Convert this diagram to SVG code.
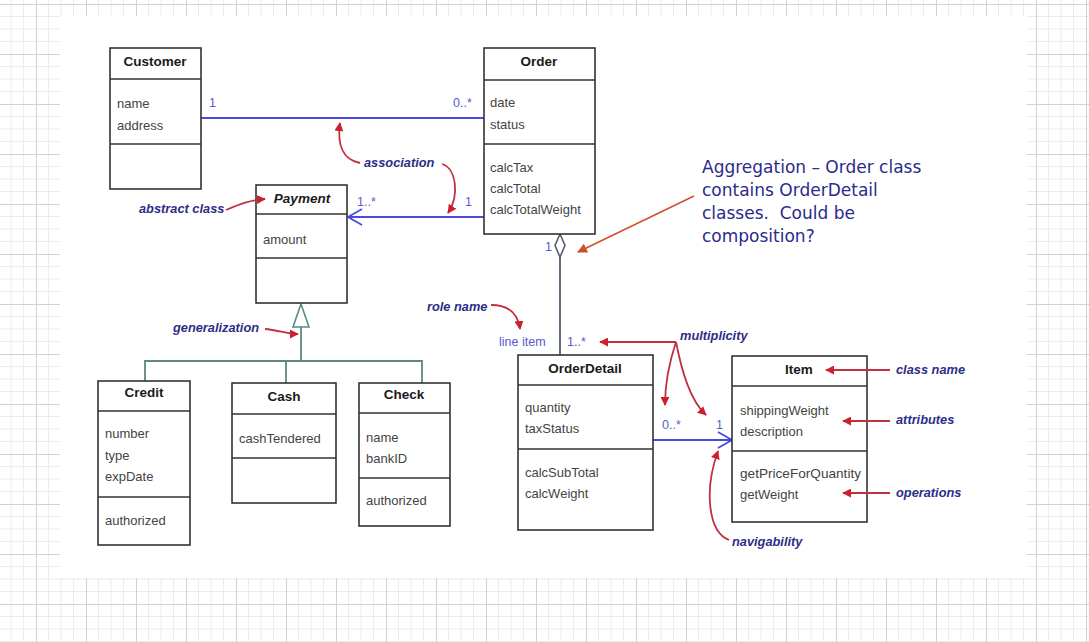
<svg xmlns="http://www.w3.org/2000/svg" width="1089" height="642" viewBox="0 0 1089 642">
<defs>
<pattern id="grid" patternUnits="userSpaceOnUse" x="36" y="4" width="50" height="50">
<path d="M12.5 0V50M25 0V50M37.5 0V50M0 12.5H50M0 25H50M0 37.5H50" stroke="#ececec" stroke-width="1" fill="none"/>
<path d="M0.5 0V50M0 0.5H50" stroke="#d2d2d2" stroke-width="1" fill="none"/>
</pattern>
<marker id="red" viewBox="0 0 10 10" refX="9" refY="5" markerWidth="9" markerHeight="9" markerUnits="userSpaceOnUse" orient="auto">
<path d="M0 0L10 5L0 10z" fill="#cc1f2f"/>
</marker>
<marker id="brown" viewBox="0 0 10 10" refX="9" refY="5" markerWidth="10" markerHeight="10" markerUnits="userSpaceOnUse" orient="auto">
<path d="M0 0L10 5L0 10z" fill="#d0502a"/>
</marker>
<style>
.box{fill:#fff;stroke:#333;stroke-width:1.6}
.div{stroke:#333;stroke-width:1.6}
.cn{font-family:"Liberation Sans",Arial,sans-serif;font-weight:bold;font-size:13.5px;fill:#1a1a1a;text-anchor:middle}
.at{font-family:"Liberation Sans",Arial,sans-serif;font-size:13px;fill:#444}
.mul{font-family:"Liberation Sans",Arial,sans-serif;font-size:12.5px;fill:#5a5ad0}
.ann{font-family:"Liberation Sans",Arial,sans-serif;font-weight:bold;font-style:italic;font-size:12.8px;fill:#2e2e88}
.note{font-family:"DejaVu Sans",Verdana,sans-serif;font-size:17px;fill:#2b2b8c;white-space:pre}
.assoc{stroke:#4a4ae0;stroke-width:1.8;fill:none}
.gen{stroke:#5a8a80;stroke-width:1.8;fill:none}
.ra{stroke:#c03040;stroke-width:1.8;fill:none;marker-end:url(#red)}
</style>
</defs>
<rect width="1089" height="642" fill="#fff"/>
<rect width="1089" height="642" fill="url(#grid)"/>
<rect x="60" y="16" width="967" height="562" fill="#fff"/>

<g id="connectors">
<line class="assoc" x1="201" y1="118" x2="484" y2="118"/>
<line class="assoc" x1="348" y1="217" x2="484" y2="217"/>
<path class="assoc" d="M362 209L348 217L362 225"/>
<line x1="560" y1="257" x2="560" y2="355" stroke="#555a70" stroke-width="1.8"/>
<path d="M560 234L565 245.5L560 257L555 245.5z" fill="#fff" stroke="#555a70" stroke-width="1.6"/>
<line class="assoc" x1="653" y1="440" x2="732" y2="440"/>
<path class="assoc" d="M718 432L732 440L718 448"/>
<path class="gen" d="M301 327V361M145 381V361H422V383M286 361V383"/>
<path d="M301 304L309 327H293z" fill="#fff" stroke="#5a8a80" stroke-width="1.6"/>
</g>

<g id="customer">
<rect class="box" x="110" y="48" width="91" height="141"/>
<line class="div" x1="110" y1="79" x2="201" y2="79"/>
<line class="div" x1="110" y1="144" x2="201" y2="144"/>
<text class="cn" x="155" y="66">Customer</text>
<text class="at" x="117" y="108">name</text>
<text class="at" x="117" y="130">address</text>
</g>

<g id="order">
<rect class="box" x="484" y="48" width="111" height="186"/>
<line class="div" x1="484" y1="80" x2="595" y2="80"/>
<line class="div" x1="484" y1="144" x2="595" y2="144"/>
<text class="cn" x="539" y="66">Order</text>
<text class="at" x="490" y="107">date</text>
<text class="at" x="490" y="129">status</text>
<text class="at" x="490" y="172">calcTax</text>
<text class="at" x="490" y="193">calcTotal</text>
<text class="at" x="490" y="214">calcTotalWeight</text>
</g>

<g id="payment">
<rect class="box" x="256" y="185" width="91" height="118"/>
<line class="div" x1="256" y1="214" x2="347" y2="214"/>
<line class="div" x1="256" y1="258" x2="347" y2="258"/>
<text class="cn" x="302" y="203" font-style="italic">Payment</text>
<text class="at" x="263" y="244">amount</text>
</g>

<g id="credit">
<rect class="box" x="98" y="381" width="92" height="164"/>
<line class="div" x1="98" y1="411" x2="190" y2="411"/>
<line class="div" x1="98" y1="497" x2="190" y2="497"/>
<text class="cn" x="144" y="397">Credit</text>
<text class="at" x="105" y="438">number</text>
<text class="at" x="105" y="460">type</text>
<text class="at" x="105" y="481">expDate</text>
<text class="at" x="105" y="525">authorized</text>
</g>

<g id="cash">
<rect class="box" x="232" y="383" width="104" height="120"/>
<line class="div" x1="232" y1="414" x2="336" y2="414"/>
<line class="div" x1="232" y1="458" x2="336" y2="458"/>
<text class="cn" x="284" y="401">Cash</text>
<text class="at" x="239" y="443">cashTendered</text>
</g>

<g id="check">
<rect class="box" x="359" y="383" width="91" height="143"/>
<line class="div" x1="359" y1="413" x2="450" y2="413"/>
<line class="div" x1="359" y1="478" x2="450" y2="478"/>
<text class="cn" x="404" y="399">Check</text>
<text class="at" x="366" y="442">name</text>
<text class="at" x="366" y="463">bankID</text>
<text class="at" x="366" y="505">authorized</text>
</g>

<g id="orderdetail">
<rect class="box" x="518" y="355" width="135" height="175"/>
<line class="div" x1="518" y1="385" x2="653" y2="385"/>
<line class="div" x1="518" y1="449" x2="653" y2="449"/>
<text class="cn" x="585" y="373">OrderDetail</text>
<text class="at" x="525" y="412">quantity</text>
<text class="at" x="525" y="433">taxStatus</text>
<text class="at" x="525" y="477">calcSubTotal</text>
<text class="at" x="525" y="498">calcWeight</text>
</g>

<g id="item">
<rect class="box" x="732" y="356" width="135" height="166"/>
<line class="div" x1="732" y1="386" x2="867" y2="386"/>
<line class="div" x1="732" y1="451" x2="867" y2="451"/>
<text class="cn" x="799" y="374">Item</text>
<text class="at" x="740" y="415">shippingWeight</text>
<text class="at" x="740" y="436">description</text>
<text class="at" x="740" y="478" textLength="121" lengthAdjust="spacingAndGlyphs">getPriceForQuantity</text>
<text class="at" x="740" y="499">getWeight</text>
</g>

<g id="labels">
<text class="mul" x="209" y="107">1</text>
<text class="mul" x="453" y="107">0..*</text>
<text class="mul" x="357" y="206">1..*</text>
<text class="mul" x="465" y="206">1</text>
<text class="mul" x="545" y="251" fill="#555a70">1</text>
<text class="mul" x="499" y="346">line item</text>
<text class="mul" x="567" y="346">1..*</text>
<text class="mul" x="662" y="429">0..*</text>
<text class="mul" x="716" y="429">1</text>
</g>

<g id="annotations">
<text class="ann" x="364" y="167">association</text>
<path class="ra" d="M360 163C343 160 337 145 340 123"/>
<path class="ra" d="M442 164C456 168 460 195 448 213"/>
<text class="ann" x="139" y="213">abstract class</text>
<path class="ra" d="M226 210C240 204 250 200 265 199"/>
<text class="ann" x="173" y="332">generalization</text>
<path class="ra" d="M265 329C278 330 287 334 298 334"/>
<text class="ann" x="427" y="311">role name</text>
<path class="ra" d="M491 305C508 305 518 313 520 329"/>
<text class="ann" x="680" y="340">multiplicity</text>
<path class="ra" d="M676 342H600"/>
<path class="ra" d="M676 342C670 360 665 380 665 405"/>
<path class="ra" d="M676 342C682 372 690 400 706 415"/>
<text class="ann" x="896" y="374">class name</text>
<path class="ra" d="M890 370H826"/>
<text class="ann" x="896" y="424">attributes</text>
<path class="ra" d="M890 421H843"/>
<text class="ann" x="896" y="497">operations</text>
<path class="ra" d="M890 493H843"/>
<text class="ann" x="732" y="546">navigability</text>
<path class="ra" d="M729 540C708 532 704 490 718 451"/>
<path d="M694 196L578 252" stroke="#d0502a" stroke-width="1.5" fill="none" marker-end="url(#brown)"/>
<text class="note" x="702" y="173">Aggregation – Order class</text>
<text class="note" x="702" y="196">contains OrderDetail</text>
<text class="note" x="702" y="219" xml:space="preserve">classes.  Could be</text>
<text class="note" x="702" y="242">composition?</text>
</g>
</svg>
